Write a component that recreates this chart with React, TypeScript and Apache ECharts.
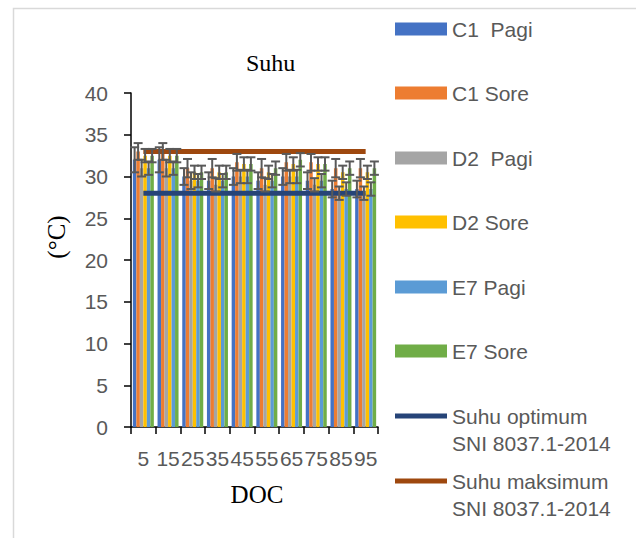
import React, { useEffect, useRef } from "react";
import * as echarts from "echarts";

const categories = ["5", "15", "25", "35", "45", "55", "65", "75", "85", "95"];
const seriesNames = ["C1  Pagi", "C1 Sore", "D2  Pagi", "D2 Sore", "E7 Pagi", "E7 Sore"];
const c1Pagi = [32.0, 32.0, 30.0, 29.5, 30.0, 29.5, 30.0, 29.5, 28.5, 28.5];
const c1Sore = [33.0, 33.0, 31.0, 31.0, 31.7, 31.0, 31.7, 31.7, 31.0, 31.0];
const d2Pagi = [31.0, 31.0, 29.5, 29.0, 30.0, 29.0, 30.0, 29.0, 28.0, 28.0];
const d2Sore = [32.5, 32.5, 30.5, 30.5, 31.5, 30.5, 31.5, 31.5, 30.5, 30.5];
const e7Pagi = [31.0, 31.0, 29.5, 29.5, 30.0, 29.5, 30.0, 29.5, 28.5, 28.5];
const e7Sore = [32.5, 32.5, 30.5, 30.5, 31.5, 31.0, 32.0, 31.5, 31.0, 31.0];
const c1PagiErr = [1.5, 1.5, 1.0, 1.0, 1.0, 1.0, 1.0, 1.0, 1.0, 1.0];
const c1SoreErr = [1.0, 1.0, 1.1, 1.1, 1.0, 1.1, 1.0, 1.0, 1.1, 1.1];
const d2PagiErr = [1.0, 1.0, 1.0, 0.8, 0.8, 0.8, 0.8, 0.8, 0.8, 0.8];
const d2SoreErr = [0.8, 0.8, 0.8, 0.8, 0.8, 0.8, 0.8, 0.8, 0.8, 0.8];
const e7PagiErr = [0.8, 0.8, 0.8, 0.8, 0.8, 0.8, 0.8, 0.8, 0.8, 0.8];
const e7SoreErr = [0.8, 0.8, 0.8, 0.8, 0.8, 0.8, 0.8, 0.8, 0.8, 0.8];
const suhuOptimum = [28, 28, 28, 28, 28, 28, 28, 28, 28, 28];
const suhuMaksimum = [33, 33, 33, 33, 33, 33, 33, 33, 33, 33];
const lineNames = ["Suhu optimum SNI 8037.1-2014", "Suhu maksimum SNI 8037.1-2014"];

const barValues = [c1Pagi, c1Sore, d2Pagi, d2Sore, e7Pagi, e7Sore];
const barErrors = [c1PagiErr, c1SoreErr, d2PagiErr, d2SoreErr, e7PagiErr, e7SoreErr];
const barColors = ["#4472C4", "#ED7D31", "#A5A5A5", "#FFC000", "#5B9BD5", "#70AD47"];
const lineColors = ["#264478", "#9E480E"];

const SANS = "Liberation Sans";
const SERIF = "Liberation Serif";
const CAT_GAP = 0.15;

export default function App() {
  const ref = useRef<HTMLDivElement>(null);
  useEffect(() => {
    if (!ref.current) return;
    const chart = echarts.init(ref.current, undefined, { renderer: "svg" });
    const nBars = barValues.length;

    const barSeries = barValues.map((vals, k) => ({
      name: seriesNames[k],
      type: "bar",
      data: vals,
      barGap: "0%",
      barCategoryGap: CAT_GAP * 100 + "%",
      itemStyle: { color: barColors[k] },
      z: 2,
    }));

    const errSeries = barValues.map((vals, k) => ({
      name: seriesNames[k] + " err",
      type: "custom",
      z: 5,
      silent: true,
      encode: { x: 0, y: [1, 2] },
      data: vals.map((v, i) => [i, v - barErrors[k][i], v + barErrors[k][i]]),
      renderItem: (params: any, api: any) => {
        const ci = api.value(0);
        const lo = api.coord([ci, api.value(1)]);
        const hi = api.coord([ci, api.value(2)]);
        const band = api.size([1, 0])[0];
        const groupW = band * (1 - CAT_GAP);
        const bw = groupW / nBars;
        const x = hi[0] - groupW / 2 + (k + 0.5) * bw;
        const cap = 4.5;
        const st = { stroke: "#595959", lineWidth: 2 };
        return {
          type: "group",
          children: [
            { type: "line", shape: { x1: x, y1: hi[1], x2: x, y2: lo[1] }, style: st },
            { type: "line", shape: { x1: x - cap, y1: hi[1], x2: x + cap, y2: hi[1] }, style: st },
            { type: "line", shape: { x1: x - cap, y1: lo[1], x2: x + cap, y2: lo[1] }, style: st },
          ],
        };
      },
    }));

    const lineSeries = [suhuOptimum, suhuMaksimum].map((vals, k) => ({
      name: lineNames[k],
      type: "line",
      data: vals,
      showSymbol: false,
      symbol: "none",
      lineStyle: { color: lineColors[k], width: 5 },
      itemStyle: { color: lineColors[k] },
      z: 4,
    }));

    const barLegendCenters = [29, 93, 158, 222, 287, 351];
    const lineLegendCenters = [416, 481];

    const legends: any[] = [];
    seriesNames.forEach((n, k) => {
      legends.push({
        orient: "vertical",
        left: 395,
        top: barLegendCenters[k] - 10.5,
        itemWidth: 52,
        itemHeight: 13,
        itemGap: 5,
        padding: 0,
        selectedMode: false,
        data: [{ name: n, icon: "rect" }],
        textStyle: { fontFamily: SANS, fontSize: 21, color: "#595959", lineHeight: 21 },
      });
    });
    lineNames.forEach((n, k) => {
      legends.push({
        orient: "vertical",
        left: 395,
        top: lineLegendCenters[k] - 40.5,
        itemWidth: 52,
        itemHeight: 5,
        itemGap: 5,
        padding: 0,
        selectedMode: false,
        data: [{ name: n, icon: "rect" }],
        formatter: (name: string) => " \n" + name.replace(" SNI", "\nSNI"),
        textStyle: {
          fontFamily: SANS,
          fontSize: 21,
          color: "#595959",
          lineHeight: 27,
        },
      });
    });

    chart.setOption({
      animation: false,
      backgroundColor: "#ffffff",
      title: {
        text: "Suhu",
        left: 246,
        top: 51,
        padding: 0,
        textStyle: { fontFamily: SERIF, fontSize: 24, fontWeight: "normal", color: "#000000" },
      },
      legend: legends,
      grid: { left: 131, right: 258, top: 93, bottom: 111 },
      xAxis: {
        type: "category",
        data: categories,
        axisLine: { lineStyle: { color: "#000000", width: 1.5 } },
        axisTick: { show: true, length: 7, lineStyle: { color: "#000000", width: 1.5 } },
        axisLabel: {
          interval: 0,
          margin: 21,
          fontFamily: SANS,
          fontSize: 21,
          color: "#595959",
          hideOverlap: false,
        },
      },
      yAxis: {
        type: "value",
        min: 0,
        max: 40,
        interval: 5,
        splitLine: { show: false },
        axisLine: { show: true, lineStyle: { color: "#000000", width: 1.5 } },
        axisTick: { show: true, length: 7, lineStyle: { color: "#000000", width: 1.5 } },
        axisLabel: { margin: 23, fontFamily: SANS, fontSize: 21, color: "#595959" },
      },
      graphic: [
        {
          type: "rect",
          shape: { x: 13.5, y: 8.5, width: 900, height: 900 },
          style: { stroke: "#d9d9d9", fill: "none", lineWidth: 1.5 },
          silent: true,
          z: -10,
        },
        {
          type: "text",
          x: 56,
          y: 237,
          rotation: Math.PI / 2,
          style: {
            text: "(°C)",
            fontFamily: SERIF,
            fontSize: 25,
            fill: "#000000",
            align: "center",
            verticalAlign: "middle",
          },
        },
        {
          type: "text",
          x: 257,
          y: 494,
          style: {
            text: "DOC",
            fontFamily: SERIF,
            fontSize: 25,
            fill: "#000000",
            align: "center",
            verticalAlign: "middle",
          },
        },
      ],
      series: [...barSeries, ...lineSeries, ...errSeries],
    });
    return () => chart.dispose();
  }, []);
  return (
    <div
      ref={ref}
      style={{ position: "fixed", left: 0, top: 0, width: 636, height: 538 }}
    />
  );
}
